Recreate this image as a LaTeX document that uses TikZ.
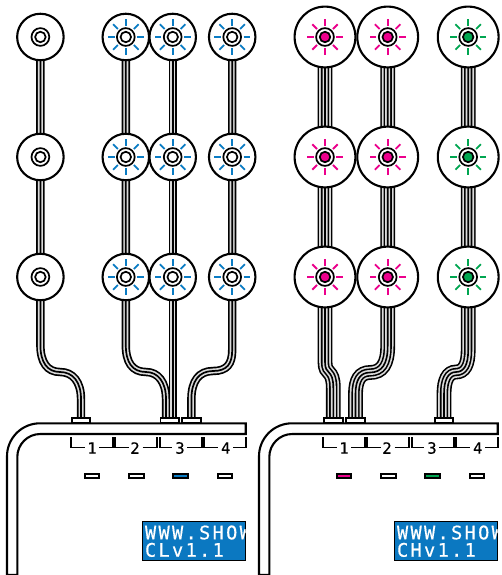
\documentclass[tikz,border=0pt]{standalone}
\usepackage{fontspec}
\setmainfont{DejaVu Sans Mono}
\newfontface\lcdfont[LetterSpace=12.5,FakeBold=0.5]{DejaVu Sans Mono}
\newfontface\digitfont[FakeBold=0.4]{DejaVu Sans Mono}
\usetikzlibrary{calc}
\definecolor{cblue}{HTML}{0A7CC4}
\definecolor{cmag}{HTML}{EC008C}
\definecolor{cgreen}{HTML}{00A651}
\definecolor{lcd}{HTML}{0B78C1}
\definecolor{strand}{HTML}{DADADA}
\pgfdeclarelayer{cables}
\pgfsetlayers{cables,main}
\tikzset{
 x=1pt,y=-1pt,
 bulb/.style={circle,draw=black,fill=white,line width=2.1pt,inner sep=0pt,minimum size=#1},
 ring/.style={circle,draw=black,fill=#1,line width=1.7pt,inner sep=0pt},
 spoke/.style={line width=1.8pt},
 plug/.style={draw=black,fill=white,line width=1.8pt,inner sep=0pt,minimum width=18.6pt,minimum height=5.2pt},
 lab/.style={inner sep=0pt,font=\fontsize{15.5}{15.5}\selectfont\digitfont},
 bracket/.style={line width=1.6pt},
 led/.style={draw=black,line width=1.8pt,inner sep=0pt,minimum width=14.6pt,minimum height=4.2pt},
 casing/.style={draw=black,fill=white,line width=2.1pt,line join=miter},
 lcdbox/.style={fill=lcd,draw=black,line width=1.2pt},
 lcdtext/.style={inner sep=0pt,anchor=base west,text=white,font=\fontsize{18.6}{18.6}\selectfont\lcdfont}
}
\newcommand{\cableL}[1]{%
 \draw[black,line width=8.4pt] #1; \draw[strand,line width=5pt] #1; \draw[black,line width=1.7pt] #1;}
\newcommand{\cableH}[1]{%
 \draw[black,line width=14.8pt] #1; \draw[strand,line width=11.6pt] #1; \draw[black,line width=8.2pt] #1; \draw[strand,line width=5pt] #1; \draw[black,line width=1.6pt] #1;}
\newcommand{\spokes}[3]{%
 \foreach \a in {0,45,...,315}{\draw[#3,spoke] ($(#1,#2)+(\a:11.3pt)$) -- ($(#1,#2)+(\a:18pt)$);}}
\newcommand{\lampOff}[3]{%
 \node[bulb=46.5pt] (#1) at (#2,#3) {};
 \node[ring=white,minimum size=17.8pt] at (#2,#3) {};
 \node[ring=white,minimum size=10.5pt] at (#2,#3) {};}
\newcommand{\lampOn}[3]{%
 \node[bulb=46.5pt] (#1) at (#2,#3) {};
 \spokes{#2}{#3}{cblue}
 \node[ring=white,minimum size=17.8pt] at (#2,#3) {};
 \node[ring=white,minimum size=10.5pt] at (#2,#3) {};}
\newcommand{\lampHi}[4]{%
 \node[bulb=60.8pt] (#1) at (#2,#3) {};
 \spokes{#2}{#3}{#4}
 \node[ring=white,minimum size=17.8pt] at (#2,#3) {};
 \node[ring=#4,minimum size=10.5pt] at (#2,#3) {};}
\newcommand{\panel}[7]{% shift, name, led1-4, version
 \begin{scope}[shift={(#1,0)}]
 \draw[casing] (245.7,423.3) -- (40,423.3) arc[start angle=-90,end angle=-180,radius=33] -- (7,575) -- (17.3,575) -- (17.3,457) arc[start angle=180,end angle=270,radius=23] -- (245.7,434) -- cycle;
 \node[lab] (#2d1) at (92,448) {1};
 \node[lab] (#2d2) at (135,448) {2};
 \node[lab] (#2d3) at (180,448) {3};
 \node[lab] (#2d4) at (225.7,448) {4};
 \draw[bracket] (71,437) |- (85,447.3) (99.3,447.3) -| (112.7,437);
 \draw[bracket] (115,437) |- (129,447.3) (142.7,447.3) -| (156.7,437);
 \draw[bracket] (160,437) |- (171.7,447.3) (187,447.3) -| (201.7,437);
 \draw[bracket] (204,437) |- (218,447.3) (233,447.3) -| (245.7,437);
 \node[led,fill=#3] (#2l1) at (92,476) {};
 \node[led,fill=#4] (#2l2) at (136.3,476) {};
 \node[led,fill=#5] (#2l3) at (180.5,476) {};
 \node[led,fill=#6] (#2l4) at (225,476) {};
 \draw[lcdbox] (142.3,521.5) rectangle (245.7,560.5);
 \begin{scope}
 \clip (142.3,521.5) rectangle (245.7,560.5);
 \node[lcdtext] (#2t1) at (144.8,539.3) {WWW.SHOW};
 \node[lcdtext] (#2t2) at (144.8,556.7) {#7};
 \end{scope}
 \end{scope}}
\begin{document}
\begin{tikzpicture}
\useasboundingbox (0,0) rectangle (501,575);
\foreach \n/\y in {a/37,b/157,c/277}{
 \lampOff{l\n}{40.4}{\y}
 \lampOn{m\n}{125.8}{\y}
 \lampOn{o\n}{172.7}{\y}
 \lampOn{p\n}{232.2}{\y}
 \lampHi{q\n}{325}{\y}{cmag}
 \lampHi{r\n}{387.7}{\y}{cmag}
 \lampHi{s\n}{468.2}{\y}{cgreen}
}
\panel{0}{A}{white}{white}{cblue}{white}{CLv1.1}
\panel{252}{B}{cmag}{white}{cgreen}{white}{CHv1.1}
\node[plug] (c1) at (81,420.4) {};
\node[plug] (c3) at (169.8,420.4) {};
\node[plug] (c4) at (191.4,420.4) {};
\node[plug] (h1) at (333.3,420.4) {};
\node[plug] (h2) at (355.5,420.4) {};
\node[plug] (h3) at (444,420.4) {};
\begin{pgfonlayer}{cables}
\fill[white] (0,0) rectangle (501,575);
\cableL{(la.center) -- (40.4,345) .. controls (40.4,362) and (47,372) .. (60,372) .. controls (73,372) and (81,382) .. (81,399) -- (c1.north)}
\cableL{(ma.center) -- (125.8,345) .. controls (125.8,362) and (132,372) .. (146,372) .. controls (158,372) and (166,382) .. (166,399) -- (166,420)}
\cableL{(oa.center) -- (172.7,420)}
\cableL{(pa.center) -- (232.2,350) .. controls (232.2,364) and (227,371) .. (213,371) .. controls (199,371) and (191.4,381) .. (191.4,399) -- (c4.north)}
\cableH{(qa.center) -- (325,362) .. controls (325,376) and (333.3,368) .. (333.3,388) -- (h1.north)}
\cableH{(ra.center) -- (387.7,346) .. controls (387.7,364) and (382,372.5) .. (370,372.5) .. controls (360,372.5) and (355.5,380) .. (355.5,394) -- (h2.north)}
\cableH{(sa.center) -- (468.2,350) .. controls (468.2,365) and (464,372) .. (456,372) .. controls (448,372) and (444,380) .. (444,394) -- (h3.north)}
\end{pgfonlayer}
\end{tikzpicture}
\end{document}
